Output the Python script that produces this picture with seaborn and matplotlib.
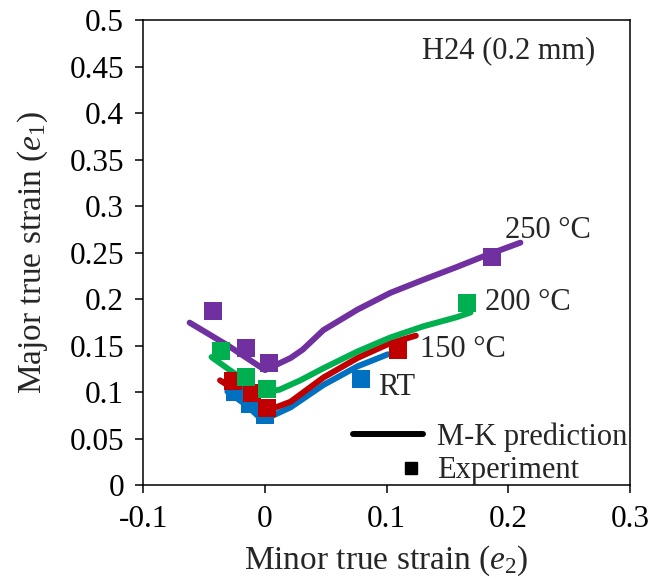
import matplotlib
matplotlib.use("Agg")
import matplotlib.pyplot as plt
import seaborn as sns
import pandas as pd
from matplotlib.lines import Line2D
from matplotlib.legend_handler import HandlerBase

# M-K prediction curves (minor strain e2, major strain e1)
mk_rt_x = [-0.031, -0.015, -0.002, 0.021, 0.048, 0.076, 0.101]
mk_rt_y = [0.101, 0.086, 0.070, 0.084, 0.108, 0.128, 0.141]
mk_150_x = [-0.037, -0.018, -0.001, 0.021, 0.048, 0.076, 0.103, 0.124]
mk_150_y = [0.113, 0.097, 0.079, 0.090, 0.116, 0.137, 0.153, 0.161]
mk_200_x = [-0.044, -0.029, -0.002, 0.012, 0.029, 0.048, 0.076, 0.103, 0.130, 0.158, 0.169]
mk_200_y = [0.138, 0.124, 0.0995, 0.103, 0.113, 0.126, 0.144, 0.159, 0.171, 0.181, 0.186]
mk_250_x = [-0.062, -0.030, 0.000, 0.021, 0.031, 0.048, 0.076, 0.103, 0.130, 0.158, 0.183, 0.210]
mk_250_y = [0.175, 0.150, 0.124, 0.137, 0.146, 0.167, 0.189, 0.207, 0.221, 0.235, 0.248, 0.261]

# Experimental forming limit points
exp_rt_x = [-0.025, -0.012, 0.000, 0.079]
exp_rt_y = [0.100, 0.088, 0.076, 0.114]
exp_150_x = [-0.026, -0.011, 0.002, 0.109]
exp_150_y = [0.112, 0.099, 0.083, 0.146]
exp_200_x = [-0.036, -0.016, 0.002, 0.166]
exp_200_y = [0.145, 0.117, 0.104, 0.196]
exp_250_x = [-0.043, -0.016, 0.003, 0.187]
exp_250_y = [0.187, 0.148, 0.132, 0.246]

temps = ["RT", "150 °C", "200 °C", "250 °C"]
colors = ["#0070C0", "#C00000", "#00B050", "#7030A0"]

mk_sets = [(mk_rt_x, mk_rt_y), (mk_150_x, mk_150_y), (mk_200_x, mk_200_y), (mk_250_x, mk_250_y)]
exp_sets = [(exp_rt_x, exp_rt_y), (exp_150_x, exp_150_y), (exp_200_x, exp_200_y), (exp_250_x, exp_250_y)]

sns.set_style("ticks")
plt.rcParams["font.family"] = ["Liberation Serif", "DejaVu Serif"]
plt.rcParams["mathtext.fontset"] = "custom"
plt.rcParams["mathtext.rm"] = "Liberation Serif"
plt.rcParams["mathtext.it"] = "Liberation Serif:italic"

fig = plt.figure(figsize=(6.52, 5.80), dpi=100)
ax = fig.add_axes([0.220, 0.163, 0.746, 0.802])

for (x, y), c in zip(mk_sets, colors):
    df = pd.DataFrame({"e2": x, "e1": y})
    sns.lineplot(data=df, x="e2", y="e1", sort=False, color=c, lw=4.3,
                 solid_capstyle="round", ax=ax, zorder=2)
for (x, y), c in zip(exp_sets, colors):
    df = pd.DataFrame({"e2": x, "e1": y})
    sns.scatterplot(data=df, x="e2", y="e1", color=c, marker="s", s=150,
                    linewidth=0, ax=ax, zorder=3)

fs = 22
ax.set_xlim(-0.1, 0.3)
ax.set_ylim(0, 0.5)
ax.set_xticks([-0.1, 0, 0.1, 0.2, 0.3])
ax.set_xticklabels(["-0.1", "0", "0.1", "0.2", "0.3"])
ax.set_yticks([0, 0.05, 0.1, 0.15, 0.2, 0.25, 0.3, 0.35, 0.4, 0.45, 0.5])
ax.set_yticklabels(["0", "0.05", "0.1", "0.15", "0.2", "0.25", "0.3", "0.35", "0.4", "0.45", "0.5"])
ax.tick_params(direction="out", length=6, width=1.1, labelsize=22.5, colors="black", pad=8)
for s in ax.spines.values():
    s.set_linewidth(1.1)
    s.set_color("black")
    s.set_visible(True)

ax.set_xlabel(r"Minor true strain ($\mathit{e}_\mathit{2}$)", fontsize=24, labelpad=7)
ax.set_ylabel(r"Major true strain ($\mathit{e}_\mathit{1}$)", fontsize=24, labelpad=14)

ax.text(0.129, 0.4594, "H24 (0.2 mm)", fontsize=fs, va="baseline", ha="left")
label_pos = [(0.093, 0.0973), (0.1276, 0.138), (0.181, 0.1887), (0.1975, 0.266)]
for t, (lx, ly) in zip(temps, label_pos):
    ax.text(lx, ly, t, fontsize=fs, va="baseline", ha="left")


class RightSquareHandler(HandlerBase):
    def create_artists(self, legend, orig_handle, xdescent, ydescent,
                       width, height, fontsize, trans):
        m = Line2D([width - xdescent - 9], [height / 2 - ydescent],
                   marker="s", markersize=9, color="black", linestyle="none",
                   transform=trans)
        return [m]


h_line = Line2D([], [], color="black", lw=4.3)
h_sq = Line2D([], [], color="black", marker="s", linestyle="none")
leg = ax.legend([h_line, h_sq], ["M-K prediction", "Experiment"],
                handler_map={h_sq: RightSquareHandler()},
                loc="lower right", bbox_to_anchor=(0.995, 0.0), frameon=False,
                fontsize=fs, handlelength=2.3, handletextpad=0.45,
                labelspacing=0.15, borderpad=0.0, borderaxespad=0.0)

fig.savefig("out.png", dpi=100)
